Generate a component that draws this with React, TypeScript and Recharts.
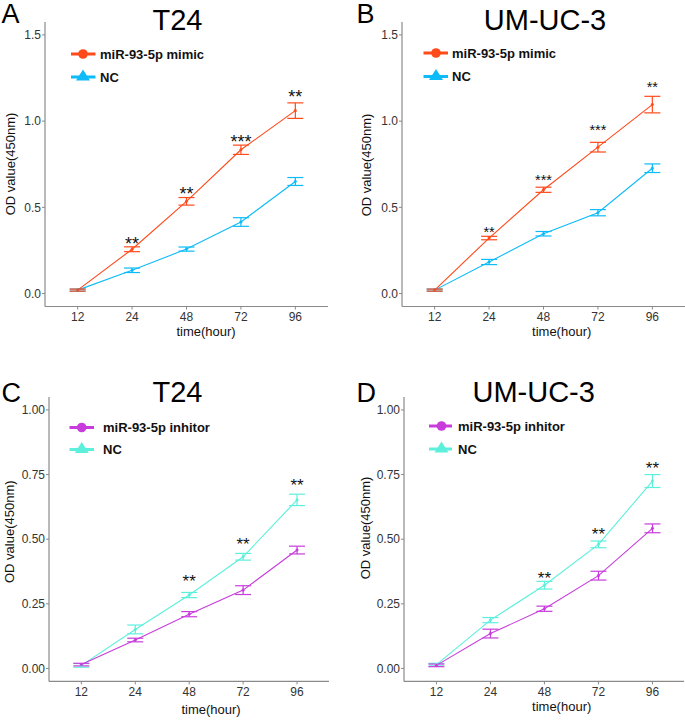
import React from "react";
import { ComposedChart, Line, Scatter, XAxis, YAxis, ErrorBar } from "recharts";

const hours = ["12", "24", "48", "72", "96"];

// Panel A – T24 mimic
const mimicA = [0.02, 0.257, 0.535, 0.834, 1.061];
const mimicErrA = [0.006, 0.014, 0.022, 0.027, 0.045];
const ncA = [0.02, 0.135, 0.258, 0.415, 0.65];
const ncErrA = [0.006, 0.013, 0.012, 0.025, 0.023];
const starLabelsA = ["", "**", "**", "***", "**"];
const starPosA = [null, 0.313, 0.604, 0.907, 1.167];

// Panel B – UM-UC-3 mimic
const mimicB = [0.02, 0.322, 0.602, 0.849, 1.096];
const mimicErrB = [0.006, 0.01, 0.015, 0.028, 0.048];
const ncB = [0.02, 0.183, 0.347, 0.469, 0.727];
const ncErrB = [0.006, 0.015, 0.013, 0.018, 0.025];
const starLabelsB = ["", "**", "***", "***", "**"];
const starPosB = [null, 0.376, 0.681, 0.969, 1.219];

// Panel C – T24 inhibitor
const inhC = [0.015, 0.11, 0.21, 0.303, 0.458];
const inhErrC = [0.005, 0.007, 0.01, 0.017, 0.015];
const ncC = [0.012, 0.151, 0.284, 0.432, 0.652];
const ncErrC = [0.007, 0.017, 0.01, 0.013, 0.022];
const starLabelsC = ["", "", "**", "**", "**"];
const starPosC = [null, null, 0.355, 0.497, 0.726];

// Panel D – UM-UC-3 inhibitor
const inhD = [0.012, 0.135, 0.231, 0.359, 0.542];
const inhErrD = [0.005, 0.017, 0.01, 0.017, 0.017];
const ncD = [0.015, 0.187, 0.322, 0.48, 0.725];
const ncErrD = [0.005, 0.01, 0.015, 0.013, 0.025];
const starLabelsD = ["", "", "**", "**", "**"];
const starPosD = [null, null, 0.368, 0.535, 0.791];

const yTicksTop = [0, 0.5, 1.0, 1.5];
const yTicksBottom = [0, 0.25, 0.5, 0.75, 1.0];

const FONT = "'Liberation Sans', Arial, Helvetica, sans-serif";
const AX = "#8a8a8a";
const TX = "#333333";
const ORANGE = "#FF4A1A";
const BLUE = "#0DBBF8";
const MAGENTA = "#C83CDC";
const AQUA = "#5CF0DC";

function buildRows(a: number[], aErr: number[], b: number[], bErr: number[]) {
  return hours.map((h, i) => ({ idx: i, hour: h, a: a[i], aErr: aErr[i], b: b[i], bErr: bErr[i] }));
}
function buildStars(labels: string[], pos: (number | null)[]) {
  return labels
    .map((s, i) => ({ idx: i, y: pos[i], s }))
    .filter((r) => r.y !== null);
}

type Cfg = {
  x1: number; x2: number; y1: number; y2: number;
  yDomain: [number, number]; yTicks: number[]; digits: number;
  rows: any[]; stars: any[]; starFs: number;
  colA: string; colB: string;
};

const panels: Cfg[] = [
  { x1: 45, x2: 328, y1: 21.5, y2: 306, yDomain: [-0.075, 1.575], yTicks: yTicksTop, digits: 1,
    rows: buildRows(mimicA, mimicErrA, ncA, ncErrA), stars: buildStars(starLabelsA, starPosA), starFs: 18,
    colA: ORANGE, colB: BLUE },
  { x1: 401.5, x2: 684.5, y1: 21.5, y2: 306, yDomain: [-0.075, 1.575], yTicks: yTicksTop, digits: 1,
    rows: buildRows(mimicB, mimicErrB, ncB, ncErrB), stars: buildStars(starLabelsB, starPosB), starFs: 14.5,
    colA: ORANGE, colB: BLUE },
  { x1: 48.6, x2: 329, y1: 397.1, y2: 681.5, yDomain: [-0.05, 1.05], yTicks: yTicksBottom, digits: 2,
    rows: buildRows(inhC, inhErrC, ncC, ncErrC), stars: buildStars(starLabelsC, starPosC), starFs: 17,
    colA: MAGENTA, colB: AQUA },
  { x1: 403.6, x2: 684.5, y1: 397.1, y2: 681.5, yDomain: [-0.05, 1.05], yTicks: yTicksBottom, digits: 2,
    rows: buildRows(inhD, inhErrD, ncD, ncErrD), stars: buildStars(starLabelsD, starPosD), starFs: 17,
    colA: MAGENTA, colB: AQUA },
];

function Panel({ cfg }: { cfg: Cfg }) {
  const ML = 45, MT = 10, MR = 0, MB = 30;
  const w = cfg.x2 - cfg.x1 + ML + MR;
  const h = cfg.y2 - cfg.y1 + MT + MB;
  const fs = cfg.starFs;
  return (
    <div style={{ position: "absolute", left: cfg.x1 - ML, top: cfg.y1 - MT }}>
      <ComposedChart width={w} height={h} data={cfg.rows} margin={{ top: MT, right: MR, bottom: 0, left: 0 }}>
        <XAxis
          type="number"
          dataKey="idx"
          domain={[-0.6, 4.6]}
          ticks={[0, 1, 2, 3, 4]}
          tickFormatter={(v: number) => hours[v]}
          height={MB}
          tickSize={3}
          tickMargin={3}
          allowDataOverflow
          axisLine={{ stroke: AX, strokeWidth: 1.2 }}
          tickLine={{ stroke: AX }}
          tick={{ fill: TX, fontSize: 12, fontFamily: FONT }}
        />
        <YAxis
          type="number"
          domain={cfg.yDomain}
          ticks={cfg.yTicks}
          tickFormatter={(v: number) => v.toFixed(cfg.digits)}
          width={ML}
          tickSize={3}
          tickMargin={1}
          allowDataOverflow
          axisLine={{ stroke: AX, strokeWidth: 1.2 }}
          tickLine={{ stroke: AX }}
          tick={{ fill: TX, fontSize: 12, fontFamily: FONT }}
        />
        <Line
          dataKey="b"
          stroke={cfg.colB}
          strokeWidth={1.1}
          dot={{ r: 1.3, fill: cfg.colB, stroke: cfg.colB, strokeWidth: 0.4 }}
          activeDot={false}
          isAnimationActive={false}
        >
          <ErrorBar dataKey="bErr" width={8} stroke={cfg.colB} strokeWidth={1.2} direction="y" />
        </Line>
        <Line
          dataKey="a"
          stroke={cfg.colA}
          strokeWidth={1.1}
          dot={{ r: 1.3, fill: cfg.colA, stroke: cfg.colA, strokeWidth: 0.4 }}
          activeDot={false}
          isAnimationActive={false}
        >
          <ErrorBar dataKey="aErr" width={8} stroke={cfg.colA} strokeWidth={1.2} direction="y" />
        </Line>
        <Scatter
          data={cfg.stars}
          dataKey="y"
          isAnimationActive={false}
          shape={(p: any) => (
            <text
              x={p.cx}
              y={p.cy + fs * 0.6}
              textAnchor="middle"
              fontSize={fs}
              fontFamily={FONT}
              fill="#111"
            >
              {p.payload.s}
            </text>
          )}
        />
      </ComposedChart>
    </div>
  );
}

type LegendCfg = { lx1: number; lx2: number; mx: number; y1: number; y2: number; tx: number; label: string; colA: string; colB: string };
const legends: LegendCfg[] = [
  { lx1: 71, lx2: 95.5, mx: 83, y1: 54, y2: 77, tx: 100, label: "miR-93-5p mimic", colA: ORANGE, colB: BLUE },
  { lx1: 423.5, lx2: 448, mx: 436, y1: 53, y2: 76.5, tx: 452, label: "miR-93-5p mimic", colA: ORANGE, colB: BLUE },
  { lx1: 69.5, lx2: 94, mx: 81.7, y1: 427.5, y2: 449.5, tx: 103, label: "miR-93-5p inhitor", colA: MAGENTA, colB: AQUA },
  { lx1: 429, lx2: 452, mx: 441.5, y1: 426, y2: 449, tx: 458, label: "miR-93-5p inhitor", colA: MAGENTA, colB: AQUA },
];

const letters = [
  { t: "A", x: 1.5, y: 23.3 },
  { t: "B", x: 356.5, y: 22.7 },
  { t: "C", x: 1.5, y: 401.7 },
  { t: "D", x: 356.5, y: 401.7 },
];
const titles = [
  { t: "T24", x: 177.5, y: 30 },
  { t: "UM-UC-3", x: 545, y: 30 },
  { t: "T24", x: 177.5, y: 401.7 },
  { t: "UM-UC-3", x: 533.7, y: 401.7 },
];
const yTitles = [
  { x: 10, y: 164 },
  { x: 366.5, y: 165 },
  { x: 9.5, y: 531.7 },
  { x: 365, y: 528 },
];
const xTitles = [
  { x: 206, y: 336 },
  { x: 561.7, y: 336 },
  { x: 211, y: 714 },
  { x: 561.7, y: 711 },
];

function Overlay() {
  return (
    <svg width={685} height={720} style={{ position: "absolute", left: 0, top: 0, pointerEvents: "none" }}>
      {letters.map((l, i) => (
        <text key={"l" + i} x={l.x} y={l.y} fontSize={27} fontFamily={FONT} fill="#000">{l.t}</text>
      ))}
      {titles.map((l, i) => (
        <text key={"t" + i} x={l.x} y={l.y} fontSize={29} fontFamily={FONT} fill="#000" textAnchor="middle">{l.t}</text>
      ))}
      {yTitles.map((l, i) => (
        <text key={"y" + i} transform={`translate(${l.x},${l.y}) rotate(-90)`} x={0} y={0} dy="0.35em" fontSize={13} fontFamily={FONT} fill="#111" textAnchor="middle">OD value(450nm)</text>
      ))}
      {xTitles.map((l, i) => (
        <text key={"x" + i} x={l.x} y={l.y} fontSize={13} fontFamily={FONT} fill="#111" textAnchor="middle">time(hour)</text>
      ))}
      {legends.map((g, i) => (
        <g key={"g" + i}>
          <line x1={g.lx1} x2={g.lx2} y1={g.y1} y2={g.y1} stroke={g.colA} strokeWidth={3} />
          <circle cx={g.mx} cy={g.y1} r={4.8} fill={g.colA} />
          <text x={g.tx} y={g.y1 + 4.7} fontSize={13} fontWeight="bold" fontFamily={FONT} fill="#111">{g.label}</text>
          <line x1={g.lx1} x2={g.lx2} y1={g.y2} y2={g.y2} stroke={g.colB} strokeWidth={3} />
          <polygon
            points={`${g.mx - 7},${g.y2 + 3.5} ${g.mx + 7},${g.y2 + 3.5} ${g.mx},${g.y2 - 7.5}`}
            fill={g.colB}
          />
          <text x={g.tx} y={g.y2 + 4.7} fontSize={13} fontWeight="bold" fontFamily={FONT} fill="#111">NC</text>
        </g>
      ))}
    </svg>
  );
}

export default function App() {
  return (
    <div style={{ position: "absolute", left: 0, top: 0, width: 685, height: 720, background: "#fff", fontFamily: FONT }}>
      {panels.map((p, i) => (
        <Panel key={i} cfg={p} />
      ))}
      <Overlay />
    </div>
  );
}
